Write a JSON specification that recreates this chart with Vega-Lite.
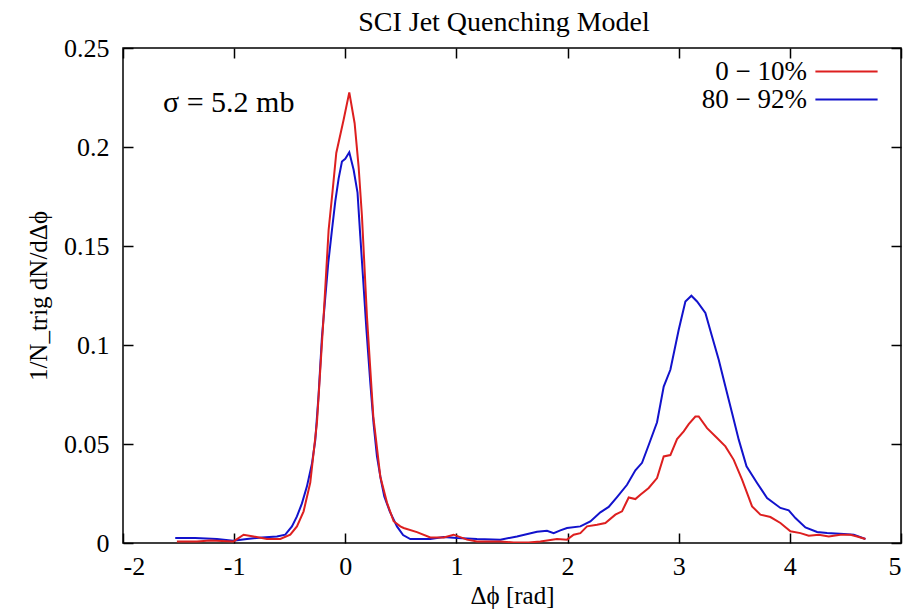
{
  "$schema": "https://vega.github.io/schema/vega-lite/v6.json",
  "width": 778,
  "height": 495,
  "autosize": {"type": "none"},
  "padding": {"left": 123, "top": 48, "right": 16, "bottom": 68},
  "background": "white",
  "title": {"text": "SCI Jet Quenching Model", "font": "Liberation Serif", "fontSize": 28, "fontWeight": "normal", "color": "black", "offset": -2, "dx": -8},
  "config": {
    "view": {"stroke": "black", "strokeWidth": 1.5},
    "axis": {
      "domain": false, "grid": false, "tickColor": "black", "tickWidth": 1.5, "tickSize": -10,
      "labelFont": "Liberation Serif", "labelFontSize": 26, "labelColor": "black",
      "titleFont": "Liberation Serif", "titleFontSize": 25, "titleFontWeight": "normal", "titleColor": "black"
    },
    "legend": {
      "orient": "none", "legendX": 710, "legendY": 10, "padding": 0,
      "symbolType": "M-3,0L3,0", "symbolSize": 430, "symbolStrokeWidth": 2,
      "labelAlign": "right", "labelOffset": -53, "labelFont": "Liberation Serif", "labelFontSize": 27, "labelColor": "black",
      "rowPadding": 0
    }
  },
  "data": {"values": [
    {"phi": -1.53, "v": 0.0025, "s": "80 − 92%"},
    {"phi": -1.35, "v": 0.0025, "s": "80 − 92%"},
    {"phi": -1.155, "v": 0.002, "s": "80 − 92%"},
    {"phi": -1.01, "v": 0.0012, "s": "80 − 92%"},
    {"phi": -0.885, "v": 0.002, "s": "80 − 92%"},
    {"phi": -0.75, "v": 0.0028, "s": "80 − 92%"},
    {"phi": -0.615, "v": 0.0033, "s": "80 − 92%"},
    {"phi": -0.54, "v": 0.0042, "s": "80 − 92%"},
    {"phi": -0.48, "v": 0.0084, "s": "80 − 92%"},
    {"phi": -0.435, "v": 0.0134, "s": "80 − 92%"},
    {"phi": -0.39, "v": 0.02, "s": "80 − 92%"},
    {"phi": -0.345, "v": 0.0286, "s": "80 − 92%"},
    {"phi": -0.3, "v": 0.04, "s": "80 − 92%"},
    {"phi": -0.27, "v": 0.052, "s": "80 − 92%"},
    {"phi": -0.24, "v": 0.075, "s": "80 − 92%"},
    {"phi": -0.21, "v": 0.104, "s": "80 − 92%"},
    {"phi": -0.18, "v": 0.124, "s": "80 − 92%"},
    {"phi": -0.153, "v": 0.1416, "s": "80 − 92%"},
    {"phi": -0.12, "v": 0.158, "s": "80 − 92%"},
    {"phi": -0.09, "v": 0.1725, "s": "80 − 92%"},
    {"phi": -0.06, "v": 0.184, "s": "80 − 92%"},
    {"phi": -0.03, "v": 0.1927, "s": "80 − 92%"},
    {"phi": 0.0, "v": 0.194, "s": "80 − 92%"},
    {"phi": 0.036, "v": 0.1973, "s": "80 − 92%"},
    {"phi": 0.075, "v": 0.1885, "s": "80 − 92%"},
    {"phi": 0.11, "v": 0.177, "s": "80 − 92%"},
    {"phi": 0.135, "v": 0.155, "s": "80 − 92%"},
    {"phi": 0.159, "v": 0.1346, "s": "80 − 92%"},
    {"phi": 0.19, "v": 0.108, "s": "80 − 92%"},
    {"phi": 0.225, "v": 0.081, "s": "80 − 92%"},
    {"phi": 0.255, "v": 0.06, "s": "80 − 92%"},
    {"phi": 0.285, "v": 0.0437, "s": "80 − 92%"},
    {"phi": 0.32, "v": 0.032, "s": "80 − 92%"},
    {"phi": 0.351, "v": 0.0235, "s": "80 − 92%"},
    {"phi": 0.4, "v": 0.016, "s": "80 − 92%"},
    {"phi": 0.465, "v": 0.0084, "s": "80 − 92%"},
    {"phi": 0.52, "v": 0.004, "s": "80 − 92%"},
    {"phi": 0.585, "v": 0.002, "s": "80 − 92%"},
    {"phi": 0.7, "v": 0.002, "s": "80 − 92%"},
    {"phi": 0.765, "v": 0.002, "s": "80 − 92%"},
    {"phi": 0.885, "v": 0.003, "s": "80 − 92%"},
    {"phi": 1.005, "v": 0.0025, "s": "80 − 92%"},
    {"phi": 1.185, "v": 0.002, "s": "80 − 92%"},
    {"phi": 1.395, "v": 0.0017, "s": "80 − 92%"},
    {"phi": 1.545, "v": 0.0033, "s": "80 − 92%"},
    {"phi": 1.725, "v": 0.0057, "s": "80 − 92%"},
    {"phi": 1.815, "v": 0.0062, "s": "80 − 92%"},
    {"phi": 1.875, "v": 0.005, "s": "80 − 92%"},
    {"phi": 1.935, "v": 0.0064, "s": "80 − 92%"},
    {"phi": 1.995, "v": 0.0076, "s": "80 − 92%"},
    {"phi": 2.115, "v": 0.0084, "s": "80 − 92%"},
    {"phi": 2.205, "v": 0.0109, "s": "80 − 92%"},
    {"phi": 2.295, "v": 0.0155, "s": "80 − 92%"},
    {"phi": 2.37, "v": 0.0182, "s": "80 − 92%"},
    {"phi": 2.445, "v": 0.0232, "s": "80 − 92%"},
    {"phi": 2.535, "v": 0.0294, "s": "80 − 92%"},
    {"phi": 2.61, "v": 0.0367, "s": "80 − 92%"},
    {"phi": 2.67, "v": 0.0405, "s": "80 − 92%"},
    {"phi": 2.73, "v": 0.0495, "s": "80 − 92%"},
    {"phi": 2.805, "v": 0.061, "s": "80 − 92%"},
    {"phi": 2.865, "v": 0.079, "s": "80 − 92%"},
    {"phi": 2.925, "v": 0.0875, "s": "80 − 92%"},
    {"phi": 3.0, "v": 0.1077, "s": "80 − 92%"},
    {"phi": 3.06, "v": 0.122, "s": "80 − 92%"},
    {"phi": 3.114, "v": 0.1249, "s": "80 − 92%"},
    {"phi": 3.165, "v": 0.122, "s": "80 − 92%"},
    {"phi": 3.24, "v": 0.1162, "s": "80 − 92%"},
    {"phi": 3.3, "v": 0.1043, "s": "80 − 92%"},
    {"phi": 3.36, "v": 0.0926, "s": "80 − 92%"},
    {"phi": 3.42, "v": 0.079, "s": "80 − 92%"},
    {"phi": 3.48, "v": 0.0657, "s": "80 − 92%"},
    {"phi": 3.54, "v": 0.0522, "s": "80 − 92%"},
    {"phi": 3.61, "v": 0.0387, "s": "80 − 92%"},
    {"phi": 3.705, "v": 0.0303, "s": "80 − 92%"},
    {"phi": 3.795, "v": 0.0227, "s": "80 − 92%"},
    {"phi": 3.915, "v": 0.0177, "s": "80 − 92%"},
    {"phi": 3.99, "v": 0.0165, "s": "80 − 92%"},
    {"phi": 4.05, "v": 0.0126, "s": "80 − 92%"},
    {"phi": 4.14, "v": 0.0079, "s": "80 − 92%"},
    {"phi": 4.245, "v": 0.0056, "s": "80 − 92%"},
    {"phi": 4.335, "v": 0.005, "s": "80 − 92%"},
    {"phi": 4.485, "v": 0.0045, "s": "80 − 92%"},
    {"phi": 4.575, "v": 0.0042, "s": "80 − 92%"},
    {"phi": 4.68, "v": 0.002, "s": "80 − 92%"},
    {"phi": -1.515, "v": 0.0008, "s": "0 − 10%"},
    {"phi": -1.335, "v": 0.0008, "s": "0 − 10%"},
    {"phi": -1.215, "v": 0.0013, "s": "0 − 10%"},
    {"phi": -1.005, "v": 0.0008, "s": "0 − 10%"},
    {"phi": -0.915, "v": 0.0042, "s": "0 − 10%"},
    {"phi": -0.825, "v": 0.0033, "s": "0 − 10%"},
    {"phi": -0.705, "v": 0.002, "s": "0 − 10%"},
    {"phi": -0.585, "v": 0.002, "s": "0 − 10%"},
    {"phi": -0.495, "v": 0.0042, "s": "0 − 10%"},
    {"phi": -0.435, "v": 0.0084, "s": "0 − 10%"},
    {"phi": -0.375, "v": 0.016, "s": "0 − 10%"},
    {"phi": -0.315, "v": 0.0305, "s": "0 − 10%"},
    {"phi": -0.255, "v": 0.0608, "s": "0 − 10%"},
    {"phi": -0.195, "v": 0.1144, "s": "0 − 10%"},
    {"phi": -0.15, "v": 0.158, "s": "0 − 10%"},
    {"phi": -0.114, "v": 0.178, "s": "0 − 10%"},
    {"phi": -0.081, "v": 0.197, "s": "0 − 10%"},
    {"phi": -0.015, "v": 0.2138, "s": "0 − 10%"},
    {"phi": 0.036, "v": 0.2276, "s": "0 − 10%"},
    {"phi": 0.084, "v": 0.212, "s": "0 − 10%"},
    {"phi": 0.12, "v": 0.19, "s": "0 − 10%"},
    {"phi": 0.15, "v": 0.165, "s": "0 − 10%"},
    {"phi": 0.195, "v": 0.1144, "s": "0 − 10%"},
    {"phi": 0.252, "v": 0.064, "s": "0 − 10%"},
    {"phi": 0.315, "v": 0.0336, "s": "0 − 10%"},
    {"phi": 0.375, "v": 0.0204, "s": "0 − 10%"},
    {"phi": 0.435, "v": 0.011, "s": "0 − 10%"},
    {"phi": 0.495, "v": 0.0084, "s": "0 − 10%"},
    {"phi": 0.525, "v": 0.0076, "s": "0 − 10%"},
    {"phi": 0.645, "v": 0.0055, "s": "0 − 10%"},
    {"phi": 0.765, "v": 0.0028, "s": "0 − 10%"},
    {"phi": 0.885, "v": 0.0028, "s": "0 − 10%"},
    {"phi": 0.975, "v": 0.0042, "s": "0 − 10%"},
    {"phi": 1.095, "v": 0.0017, "s": "0 − 10%"},
    {"phi": 1.185, "v": 0.0008, "s": "0 − 10%"},
    {"phi": 1.395, "v": 0.0008, "s": "0 − 10%"},
    {"phi": 1.515, "v": 0.0003, "s": "0 − 10%"},
    {"phi": 1.65, "v": 0.0002, "s": "0 − 10%"},
    {"phi": 1.755, "v": 0.0008, "s": "0 − 10%"},
    {"phi": 1.905, "v": 0.002, "s": "0 − 10%"},
    {"phi": 1.995, "v": 0.0017, "s": "0 − 10%"},
    {"phi": 2.055, "v": 0.0042, "s": "0 − 10%"},
    {"phi": 2.115, "v": 0.005, "s": "0 − 10%"},
    {"phi": 2.175, "v": 0.0084, "s": "0 − 10%"},
    {"phi": 2.265, "v": 0.0092, "s": "0 − 10%"},
    {"phi": 2.34, "v": 0.0101, "s": "0 − 10%"},
    {"phi": 2.43, "v": 0.0143, "s": "0 − 10%"},
    {"phi": 2.49, "v": 0.016, "s": "0 − 10%"},
    {"phi": 2.55, "v": 0.023, "s": "0 − 10%"},
    {"phi": 2.61, "v": 0.0222, "s": "0 − 10%"},
    {"phi": 2.655, "v": 0.0244, "s": "0 − 10%"},
    {"phi": 2.73, "v": 0.0278, "s": "0 − 10%"},
    {"phi": 2.805, "v": 0.0328, "s": "0 − 10%"},
    {"phi": 2.865, "v": 0.0437, "s": "0 − 10%"},
    {"phi": 2.925, "v": 0.0444, "s": "0 − 10%"},
    {"phi": 2.985, "v": 0.0525, "s": "0 − 10%"},
    {"phi": 3.045, "v": 0.0564, "s": "0 − 10%"},
    {"phi": 3.09, "v": 0.06, "s": "0 − 10%"},
    {"phi": 3.15, "v": 0.0639, "s": "0 − 10%"},
    {"phi": 3.18, "v": 0.0639, "s": "0 − 10%"},
    {"phi": 3.255, "v": 0.058, "s": "0 − 10%"},
    {"phi": 3.345, "v": 0.053, "s": "0 − 10%"},
    {"phi": 3.42, "v": 0.0488, "s": "0 − 10%"},
    {"phi": 3.495, "v": 0.042, "s": "0 − 10%"},
    {"phi": 3.57, "v": 0.032, "s": "0 − 10%"},
    {"phi": 3.66, "v": 0.0185, "s": "0 − 10%"},
    {"phi": 3.735, "v": 0.0143, "s": "0 − 10%"},
    {"phi": 3.825, "v": 0.0131, "s": "0 − 10%"},
    {"phi": 3.915, "v": 0.0101, "s": "0 − 10%"},
    {"phi": 4.005, "v": 0.0059, "s": "0 − 10%"},
    {"phi": 4.095, "v": 0.005, "s": "0 − 10%"},
    {"phi": 4.17, "v": 0.0037, "s": "0 − 10%"},
    {"phi": 4.26, "v": 0.0042, "s": "0 − 10%"},
    {"phi": 4.35, "v": 0.0033, "s": "0 − 10%"},
    {"phi": 4.455, "v": 0.0042, "s": "0 − 10%"},
    {"phi": 4.545, "v": 0.0042, "s": "0 − 10%"},
    {"phi": 4.605, "v": 0.0033, "s": "0 − 10%"},
    {"phi": 4.68, "v": 0.002, "s": "0 − 10%"}
  ]},
  "layer": [
    {
      "mark": {"type": "line", "strokeWidth": 2, "clip": true},
      "encoding": {
        "x": {"field": "phi", "type": "quantitative", "scale": {"domain": [-2, 5], "nice": false, "zero": false},
              "axis": {"orient": "bottom", "values": [-2, -1, 0, 1, 2, 3, 4, 5], "labelExpr": "'' + datum.value", "labelPadding": 20, "title": "Δϕ [rad]", "titlePadding": 4}},
        "y": {"field": "v", "type": "quantitative", "scale": {"domain": [0, 0.25], "nice": false},
              "axis": {"orient": "left", "values": [0, 0.05, 0.1, 0.15, 0.2, 0.25], "labelExpr": "'' + datum.value", "labelPadding": 24, "title": "1/N_trig dN/dΔϕ", "titlePadding": 12}},
        "color": {"field": "s", "type": "nominal", "scale": {"domain": ["0 − 10%", "80 − 92%"], "range": ["#dd1f1f", "#1212cc"]}, "legend": {"title": null}}
      }
    },
    {
      "mark": {"type": "line", "strokeOpacity": 0},
      "encoding": {
        "x": {"field": "phi", "type": "quantitative", "axis": {"orient": "top", "values": [-2, -1, 0, 1, 2, 3, 4, 5], "labels": false, "title": null}},
        "y": {"field": "v", "type": "quantitative", "axis": {"orient": "right", "values": [0, 0.05, 0.1, 0.15, 0.2, 0.25], "labels": false, "title": null}},
        "detail": {"field": "s"}
      }
    },
    {
      "data": {"values": [{"label": "σ = 5.2 mb"}]},
      "mark": {"type": "text", "align": "left", "baseline": "middle", "font": "Liberation Serif", "fontSize": 30, "color": "black"},
      "encoding": {
        "x": {"datum": -1.64, "type": "quantitative", "axis": null},
        "y": {"datum": 0.222, "type": "quantitative", "axis": null},
        "text": {"field": "label"}
      }
    }
  ],
  "resolve": {"axis": {"x": "independent", "y": "independent"}}
}
